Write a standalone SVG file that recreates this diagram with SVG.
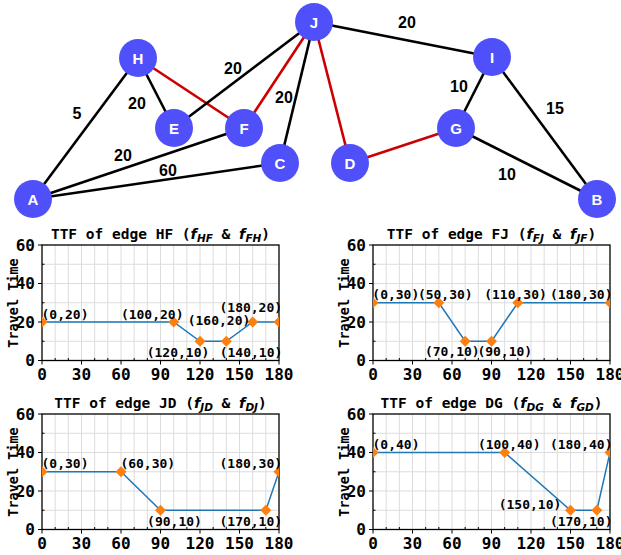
<svg xmlns="http://www.w3.org/2000/svg" xmlns:xlink="http://www.w3.org/1999/xlink" width="621" height="555" viewBox="0 0 621 555">
<style>
.edge{stroke:#000;stroke-width:2.6;fill:none}
.red{stroke:#cc0000}
.node circle{fill:#5050fa}
.node text{font-family:"Liberation Sans",Arial,sans-serif;font-weight:bold;font-size:15px;fill:#fff;text-anchor:middle}
.elab{font-family:"Liberation Sans",Arial,sans-serif;font-weight:bold;font-size:16px;fill:#000;text-anchor:middle}
.grid{stroke:#dcdcdc;stroke-width:1}
.frame{fill:none;stroke:#000;stroke-width:1.3}
.tick{stroke:#000;stroke-width:1}
.tl{font-family:"DejaVu Sans Mono",monospace;font-weight:bold;font-size:16px;fill:#000}
.xl{text-anchor:middle}
.yl{text-anchor:end}
.ylab{font-family:"DejaVu Sans Mono",monospace;font-weight:bold;font-size:13.5px;fill:#000;text-anchor:middle}
.title{font-family:"DejaVu Sans Mono",monospace;font-weight:bold;font-size:14.5px;fill:#000;text-anchor:middle}
.mf{font-family:"DejaVu Sans",sans-serif;font-style:italic}
.sub{font-family:"DejaVu Sans",sans-serif;font-style:italic;font-size:10.5px}
.data{fill:none;stroke:#1f77b4;stroke-width:1.5}
.mk{fill:#ff7f0e}
.pl{font-family:"DejaVu Sans Mono",monospace;font-weight:bold;font-size:13px;fill:#000;text-anchor:middle}
</style>
<defs>
<clipPath id="plotclip"><rect x="0" y="0" width="237" height="115.5"/></clipPath>
<path id="dm" class="mk" d="M0,-5.5 L5.5,0 L0,5.5 L-5.5,0Z"/>
<g id="axes">
<g class="grid">
<path d="M13.17,0V115.5M26.33,0V115.5M39.5,0V115.5M52.67,0V115.5M65.83,0V115.5M79,0V115.5M92.17,0V115.5M105.33,0V115.5M118.5,0V115.5M131.67,0V115.5M144.83,0V115.5M158,0V115.5M171.17,0V115.5M184.33,0V115.5M197.5,0V115.5M210.67,0V115.5M223.83,0V115.5"/>
<path d="M0,19.25H237M0,38.5H237M0,57.75H237M0,77H237M0,96.25H237"/>
</g>
<path class="tick" d="M0,115.5V119.5M39.5,115.5V119.5M79,115.5V119.5M118.5,115.5V119.5M158,115.5V119.5M197.5,115.5V119.5M237,115.5V119.5M0,0H-4M0,38.5H-4M0,77H-4M0,115.5H-4"/>
<path class="tick" d="M13.17,115.5V113M26.33,115.5V113M52.67,115.5V113M65.83,115.5V113M92.17,115.5V113M105.33,115.5V113M131.67,115.5V113M144.83,115.5V113M171.17,115.5V113M184.33,115.5V113M210.67,115.5V113M223.83,115.5V113M0,19.25H2.5M0,57.75H2.5M0,96.25H2.5"/>
<rect class="frame" x="0" y="0" width="237" height="115.5"/>
<g class="tl xl">
<text x="0" y="135">0</text><text x="39.5" y="135">30</text><text x="79" y="135">60</text><text x="118.5" y="135">90</text><text x="158" y="135">120</text><text x="197.5" y="135">150</text><text x="237" y="135">180</text>
</g>
<g class="tl yl">
<text x="-7" y="5.5">60</text><text x="-7" y="44">40</text><text x="-7" y="82.5">20</text><text x="-7" y="121">0</text>
</g>
<text class="ylab" transform="translate(-24,58) rotate(-90)">Travel Time</text>
</g>
</defs>

<g id="edges">
<line class="edge" x1="33" y1="199" x2="138" y2="58"/>
<line class="edge" x1="33" y1="199" x2="244" y2="128"/>
<line class="edge" x1="33" y1="199" x2="280" y2="163"/>
<line class="edge" x1="138" y1="58" x2="174" y2="128"/>
<line class="edge red" x1="138" y1="58" x2="244" y2="128"/>
<line class="edge" x1="174" y1="128" x2="314" y2="22"/>
<line class="edge red" x1="244" y1="128" x2="314" y2="22"/>
<line class="edge" x1="280" y1="163" x2="314" y2="22"/>
<line class="edge" x1="314" y1="22" x2="492" y2="57"/>
<line class="edge red" x1="314" y1="22" x2="350" y2="163"/>
<line class="edge red" x1="350" y1="163" x2="456" y2="128"/>
<line class="edge" x1="456" y1="128" x2="492" y2="57"/>
<line class="edge" x1="456" y1="128" x2="597" y2="199"/>
<line class="edge" x1="492" y1="57" x2="597" y2="199"/>
</g>
<g id="edge-labels">
<text class="elab" x="77" y="119">5</text>
<text class="elab" x="137" y="109">20</text>
<text class="elab" x="233" y="74">20</text>
<text class="elab" x="284" y="103">20</text>
<text class="elab" x="123" y="161">20</text>
<text class="elab" x="168" y="176">60</text>
<text class="elab" x="407" y="28">20</text>
<text class="elab" x="459" y="92">10</text>
<text class="elab" x="555" y="114">15</text>
<text class="elab" x="507" y="180">10</text>
</g>
<g id="node-A" class="node"><circle cx="33" cy="199" r="19"/><text x="33" y="204.5">A</text></g>
<g id="node-H" class="node"><circle cx="138" cy="58" r="19"/><text x="138" y="63.5">H</text></g>
<g id="node-E" class="node"><circle cx="174" cy="128" r="19"/><text x="174" y="133.5">E</text></g>
<g id="node-F" class="node"><circle cx="244" cy="128" r="19"/><text x="244" y="133.5">F</text></g>
<g id="node-C" class="node"><circle cx="280" cy="163" r="19"/><text x="280" y="168.5">C</text></g>
<g id="node-J" class="node"><circle cx="314" cy="22" r="19"/><text x="314" y="27.5">J</text></g>
<g id="node-D" class="node"><circle cx="350" cy="163" r="19"/><text x="350" y="168.5">D</text></g>
<g id="node-G" class="node"><circle cx="456" cy="128" r="19"/><text x="456" y="133.5">G</text></g>
<g id="node-I" class="node"><circle cx="492" cy="57" r="19"/><text x="492" y="62.5">I</text></g>
<g id="node-B" class="node"><circle cx="597" cy="199" r="19"/><text x="597" y="204.5">B</text></g>

<g id="chart-HF" transform="translate(42,245)">
<use xlink:href="#axes"/>
<text class="title" x="118.5" y="-6">TTF of edge HF (<tspan class="mf">f</tspan><tspan class="sub" dy="3">HF</tspan><tspan dy="-3"> &amp; </tspan><tspan class="mf">f</tspan><tspan class="sub" dy="3">FH</tspan><tspan dy="-3">)</tspan></text>
<g clip-path="url(#plotclip)">
<polyline class="data" points="0,77 131.67,77 158,96.25 184.33,96.25 210.67,77 237,77"/>
<use xlink:href="#dm" x="0" y="77"/><use xlink:href="#dm" x="131.67" y="77"/><use xlink:href="#dm" x="158" y="96.25"/><use xlink:href="#dm" x="184.33" y="96.25"/><use xlink:href="#dm" x="210.67" y="77"/><use xlink:href="#dm" x="237" y="77"/>
</g>
</g>
<g id="labels-HF">
<text class="pl" x="65" y="318.5">(0,20)</text>
<text class="pl" x="152.2" y="318.5">(100,20)</text>
<text class="pl" x="219" y="324.5">(160,20)</text>
<text class="pl" x="250.8" y="312">(180,20)</text>
<text class="pl" x="178" y="356.5">(120,10)</text>
<text class="pl" x="251" y="356.5">(140,10)</text>
</g>

<g id="chart-FJ" transform="translate(373,245)">
<use xlink:href="#axes"/>
<text class="title" x="118.5" y="-6">TTF of edge FJ (<tspan class="mf">f</tspan><tspan class="sub" dy="3">FJ</tspan><tspan dy="-3"> &amp; </tspan><tspan class="mf">f</tspan><tspan class="sub" dy="3">JF</tspan><tspan dy="-3">)</tspan></text>
<g clip-path="url(#plotclip)">
<polyline class="data" points="0,57.75 65.83,57.75 92.17,96.25 118.5,96.25 144.83,57.75 237,57.75"/>
<use xlink:href="#dm" x="0" y="57.75"/><use xlink:href="#dm" x="65.83" y="57.75"/><use xlink:href="#dm" x="92.17" y="96.25"/><use xlink:href="#dm" x="118.5" y="96.25"/><use xlink:href="#dm" x="144.83" y="57.75"/><use xlink:href="#dm" x="237" y="57.75"/>
</g>
</g>
<g id="labels-FJ">
<text class="pl" x="395.8" y="298.5">(0,30)</text>
<text class="pl" x="445.3" y="298.5">(50,30)</text>
<text class="pl" x="515.5" y="298.5">(110,30)</text>
<text class="pl" x="581.2" y="298.5">(180,30)</text>
<text class="pl" x="452.3" y="356">(70,10)</text>
<text class="pl" x="504.8" y="356">(90,10)</text>
</g>

<g id="chart-JD" transform="translate(42,414)">
<use xlink:href="#axes"/>
<text class="title" x="118.5" y="-6">TTF of edge JD (<tspan class="mf">f</tspan><tspan class="sub" dy="3">JD</tspan><tspan dy="-3"> &amp; </tspan><tspan class="mf">f</tspan><tspan class="sub" dy="3">DJ</tspan><tspan dy="-3">)</tspan></text>
<g clip-path="url(#plotclip)">
<polyline class="data" points="0,57.75 79,57.75 118.5,96.25 223.83,96.25 237,57.75"/>
<use xlink:href="#dm" x="0" y="57.75"/><use xlink:href="#dm" x="79" y="57.75"/><use xlink:href="#dm" x="118.5" y="96.25"/><use xlink:href="#dm" x="223.83" y="96.25"/><use xlink:href="#dm" x="237" y="57.75"/>
</g>
</g>
<g id="labels-JD">
<text class="pl" x="65" y="467.5">(0,30)</text>
<text class="pl" x="147.8" y="467.5">(60,30)</text>
<text class="pl" x="250.8" y="467.5">(180,30)</text>
<text class="pl" x="174.5" y="526">(90,10)</text>
<text class="pl" x="250.8" y="526">(170,10)</text>
</g>

<g id="chart-DG" transform="translate(373,414)">
<use xlink:href="#axes"/>
<text class="title" x="118.5" y="-6">TTF of edge DG (<tspan class="mf">f</tspan><tspan class="sub" dy="3">DG</tspan><tspan dy="-3"> &amp; </tspan><tspan class="mf">f</tspan><tspan class="sub" dy="3">GD</tspan><tspan dy="-3">)</tspan></text>
<g clip-path="url(#plotclip)">
<polyline class="data" points="0,38.5 131.67,38.5 197.5,96.25 223.83,96.25 237,38.5"/>
<use xlink:href="#dm" x="0" y="38.5"/><use xlink:href="#dm" x="131.67" y="38.5"/><use xlink:href="#dm" x="197.5" y="96.25"/><use xlink:href="#dm" x="223.83" y="96.25"/><use xlink:href="#dm" x="237" y="38.5"/>
</g>
</g>
<g id="labels-DG">
<text class="pl" x="396" y="448.5">(0,40)</text>
<text class="pl" x="509.2" y="448.5">(100,40)</text>
<text class="pl" x="581.2" y="448.5">(180,40)</text>
<text class="pl" x="530" y="509">(150,10)</text>
<text class="pl" x="581.2" y="526">(170,10)</text>
</g>
</svg>
